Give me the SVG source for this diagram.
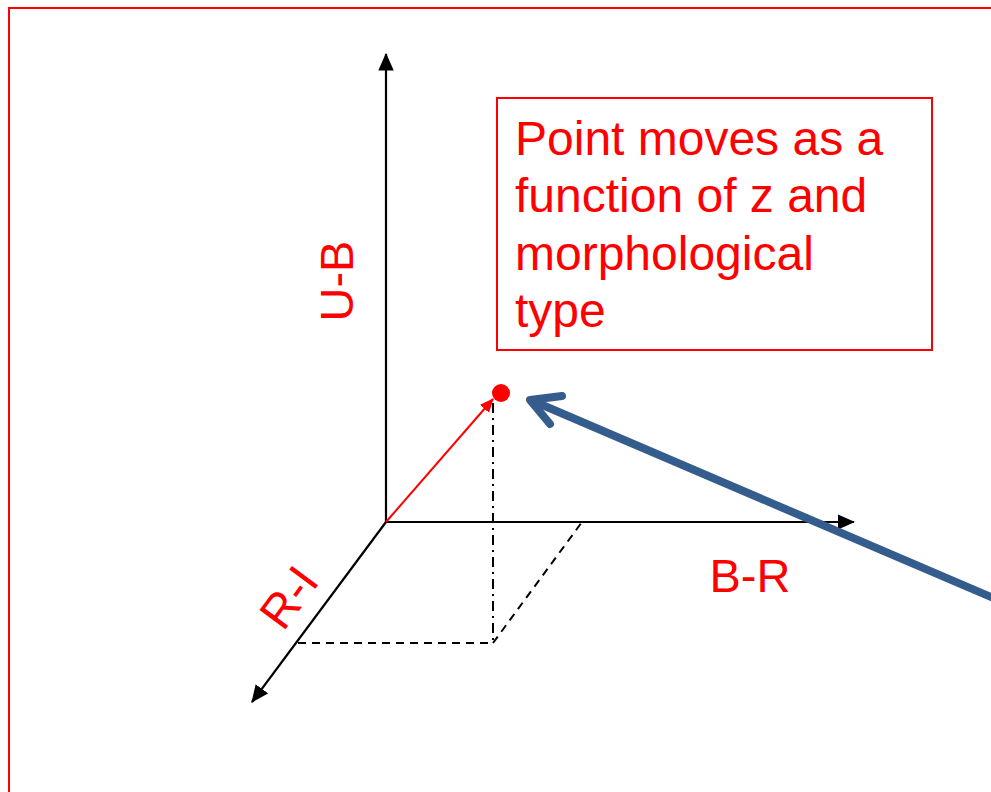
<svg xmlns="http://www.w3.org/2000/svg" width="991" height="792" viewBox="0 0 991 792">
<style>
.lbl{font-family:"Liberation Sans",Arial,sans-serif;font-size:47px;fill:#ff0000}
.box{font-size:48px}
.axis{stroke:#000;stroke-width:2.2;fill:none}
</style>
<defs>
<marker id="ah" markerWidth="8" markerHeight="7" refX="7.5" refY="3.5" orient="auto" markerUnits="strokeWidth"><path d="M0,0 L8,3.5 L0,7 z" fill="#000"/></marker>
<marker id="ahr" markerWidth="7" markerHeight="6" refX="6.5" refY="3" orient="auto" markerUnits="strokeWidth"><path d="M0,0 L7,3 L0,6 z" fill="#ff0000"/></marker>
</defs>
<rect x="9" y="8" width="1000" height="800" fill="#fff" stroke="#ff0000" stroke-width="2"/>
<g id="connectors">
<line class="axis" x1="386" y1="522" x2="386" y2="54" marker-end="url(#ah)"/>
<line class="axis" x1="386" y1="522" x2="854" y2="522" marker-end="url(#ah)"/>
<line class="axis" x1="386" y1="522" x2="252" y2="702" marker-end="url(#ah)"/>
<line x1="386" y1="522" x2="493" y2="399" stroke="#ff0000" stroke-width="2" marker-end="url(#ahr)"/>
<line x1="493" y1="403" x2="493" y2="643" stroke="#000" stroke-width="2" stroke-dasharray="10,5,2,5"/>
<line x1="298" y1="643" x2="493" y2="643" stroke="#000" stroke-width="2" stroke-dasharray="8,6"/>
<line x1="493" y1="643" x2="582" y2="522" stroke="#000" stroke-width="2" stroke-dasharray="8,6"/>
<line x1="533" y1="401" x2="1005" y2="603" stroke="#345d8d" stroke-width="8"/>
<polyline points="562,396 530,400 550,424" fill="none" stroke="#345d8d" stroke-width="8" stroke-linecap="round" stroke-linejoin="round"/>
</g>
<g id="point"><circle cx="501" cy="393" r="9" fill="#ff0000"/></g>
<g id="note">
<rect x="497" y="98" width="435" height="252" fill="none" stroke="#ff0000" stroke-width="2"/>
<text class="lbl box" x="515" y="155">Point moves as a</text>
<text class="lbl box" x="515" y="212">function of z and</text>
<text class="lbl box" x="515" y="270">morphological</text>
<text class="lbl box" x="515" y="327">type</text>
</g>
<g id="label-ub"><text class="lbl" text-anchor="middle" transform="translate(353,281) rotate(-90)">U-B</text></g>
<g id="label-br"><text class="lbl" text-anchor="middle" x="750" y="592">B-R</text></g>
<g id="label-ri"><text class="lbl" text-anchor="middle" transform="translate(302,607) rotate(-53.5)">R-I</text></g>
</svg>
